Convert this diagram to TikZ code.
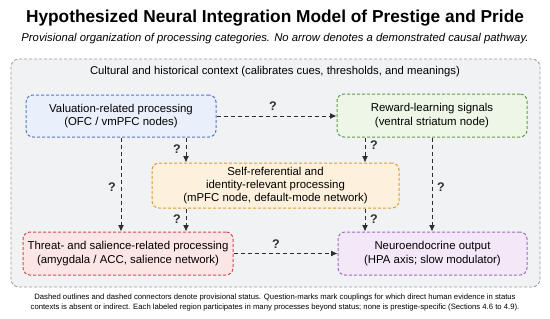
\documentclass[tikz,border=0pt]{standalone}
\usepackage{fontspec}
\setmainfont{Liberation Sans}
\usetikzlibrary{arrows.meta}
\definecolor{outerfill}{HTML}{F1F2F4}
\definecolor{outerline}{HTML}{9A9A9A}
\definecolor{bfill}{HTML}{EAF0FB}\definecolor{bline}{HTML}{4F7BC4}
\definecolor{gfill}{HTML}{EEF6E7}\definecolor{gline}{HTML}{5E9E45}
\definecolor{ofill}{HTML}{FDF0DC}\definecolor{oline}{HTML}{E39A34}
\definecolor{rfill}{HTML}{FBE5E5}\definecolor{rline}{HTML}{CC4E55}
\definecolor{pfill}{HTML}{F4E8F8}\definecolor{pline}{HTML}{A467C4}
\definecolor{arr}{HTML}{2E2E2E}
\tikzset{
  catbox/.style={draw, rounded corners=7pt, line width=1pt, dash pattern=on 3pt off 2pt,
    align=center, font=\fontsize{11.4}{13.6}\selectfont, inner sep=2pt},
  conn/.style={draw=arr, line width=0.9pt, dash pattern=on 4pt off 3pt,
    -{Latex[length=6.5pt,width=6pt]}},
  qm/.style={font=\bfseries\fontsize{12.5}{13}\selectfont, text=arr, inner sep=0pt}
}
\begin{document}
\begin{tikzpicture}[x=1pt,y=-1pt]
\useasboundingbox (0,0) rectangle (550,319);
\fill[white] (0,0) rectangle (550,319);
\node[font=\bfseries\fontsize{17.3}{18}\selectfont] (title) at (275,18) {Hypothesized Neural Integration Model of Prestige and Pride};
\node[font=\itshape\fontsize{11.3}{12}\selectfont] (sub) at (275,39) {Provisional organization of processing categories. No arrow denotes a demonstrated causal pathway.};
\node[draw=outerline, fill=outerfill, rounded corners=8pt, line width=0.8pt, dash pattern=on 3pt off 2pt,
  minimum width=529pt, minimum height=228pt, inner sep=0pt] (outer) at (275.5,173) {};
\node[font=\fontsize{11.3}{12}\selectfont] (ctx) at (275,72) {Cultural and historical context (calibrates cues, thresholds, and meanings)};
\node[catbox, draw=bline, fill=bfill, minimum width=190pt, minimum height=42pt] (val) at (121,116) {Valuation-related processing\\(OFC / vmPFC nodes)};
\node[catbox, draw=gline, fill=gfill, minimum width=190pt, minimum height=43pt] (rew) at (432,115.5) {Reward-learning signals\\(ventral striatum node)};
\node[catbox, draw=oline, fill=ofill, minimum width=247pt, minimum height=45pt, font=\fontsize{11.4}{13}\selectfont] (self) at (275.5,185.5) {Self-referential and\\identity-relevant processing\\(mPFC node, default-mode network)};
\node[catbox, draw=rline, fill=rfill, minimum width=210pt, minimum height=43pt] (thr) at (128,253.5) {Threat- and salience-related processing\\(amygdala / ACC, salience network)};
\node[catbox, draw=pline, fill=pfill, minimum width=189pt, minimum height=43pt] (neu) at (432.5,253.5) {Neuroendocrine output\\(HPA axis; slow modulator)};
\coordinate (xL) at (186,0);
\coordinate (xR) at (365,0);
\coordinate (xV) at (121,0);
% connectors
\draw[conn] (val.east) -- (val.east -| rew.west);
\draw[conn] (val.south -| xV) -- (thr.north -| xV);
\draw[conn] (val.south -| xL) -- (self.north -| xL);
\draw[conn] (rew.south -| xR) -- (self.north -| xR);
\draw[conn] (rew.south) -- (rew.south |- neu.north);
\draw[conn] (self.south -| xL) -- (thr.north -| xL);
\draw[conn] (self.south -| xR) -- (neu.north -| xR);
\draw[conn] (thr.east) -- (thr.east -| neu.west);
% question marks
\node[qm] (q1) at (273,106) {?};
\node[qm] (q2) at (112,187) {?};
\node[qm] (q3) at (177,149) {?};
\node[qm] (q4) at (374,145) {?};
\node[qm] (q5) at (441,187) {?};
\node[qm] (q6) at (177,219) {?};
\node[qm] (q7) at (374,219) {?};
\node[qm] (q8) at (276,244) {?};
\node[font=\fontsize{7.7}{9.4}\selectfont, align=center] (foot) at (275,302.5) {Dashed outlines and dashed connectors denote provisional status. Question-marks mark couplings for which direct human evidence in status\\contexts is absent or indirect. Each labeled region participates in many processes beyond status; none is prestige-specific (Sections 4.6 to 4.9).};
\end{tikzpicture}
\end{document}
